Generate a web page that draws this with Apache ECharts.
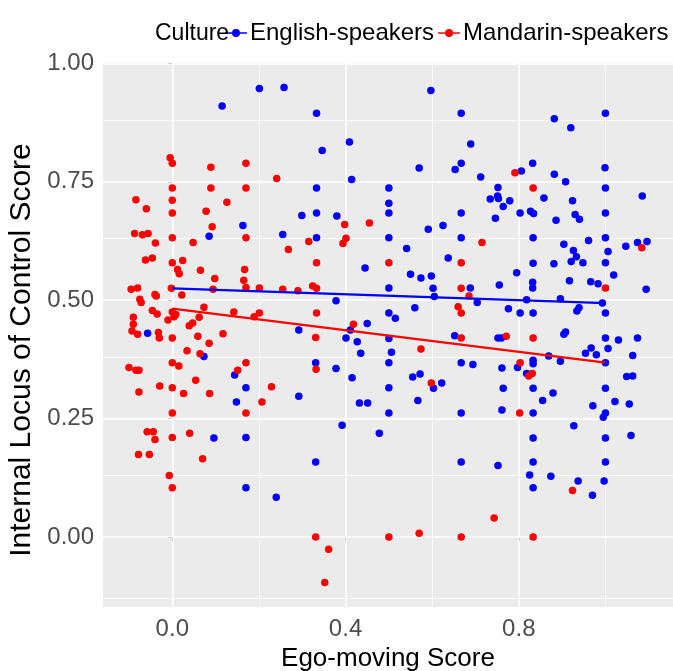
<!DOCTYPE html>
<html>
<head>
<meta charset="utf-8">
<script src="https://cdn.jsdelivr.net/npm/echarts@6/dist/echarts.min.js"></script>
<style>
  html, body { margin: 0; padding: 0; background: #fff; }
  #chart { width: 673px; height: 671px; }
</style>
</head>
<body>
<div id="chart"></div>
<script>
// 点的数据 [ego-moving score, internal locus of control score]
const englishPoints = [
  [0.201, 0.947], [0.258, 0.949], [0.115, 0.910], [0.333, 0.895], [0.597, 0.943], [0.667, 0.895],
  [0.409, 0.834], [0.346, 0.816], [0.689, 0.830], [0.570, 0.779], [0.653, 0.776], [0.667, 0.789],
  [0.414, 0.755], [0.882, 0.883], [0.920, 0.864], [1.000, 0.895], [0.832, 0.789], [0.806, 0.773],
  [0.712, 0.760], [0.882, 0.766], [0.908, 0.750], [0.999, 0.780], [0.163, 0.658], [0.085, 0.635],
  [0.255, 0.639], [0.333, 0.737], [0.500, 0.737], [0.500, 0.705], [0.299, 0.679], [0.333, 0.684],
  [0.380, 0.678], [0.500, 0.684], [0.667, 0.684], [0.591, 0.650], [0.625, 0.658], [0.333, 0.632],
  [0.500, 0.632], [0.667, 0.632], [0.541, 0.609], [0.637, 0.589], [0.445, 0.568], [0.550, 0.555],
  [0.574, 0.547], [0.598, 0.551], [0.500, 0.526], [0.602, 0.525], [0.688, 0.526], [0.605, 0.508],
  [0.378, 0.499], [0.560, 0.484], [0.500, 0.473], [0.515, 0.462], [0.752, 0.738], [1.000, 0.737],
  [0.751, 0.720], [0.734, 0.714], [0.753, 0.715], [0.779, 0.710], [0.764, 0.698], [0.858, 0.716],
  [0.924, 0.710], [1.085, 0.720], [0.803, 0.684], [0.827, 0.688], [0.834, 0.683], [0.746, 0.673],
  [0.886, 0.669], [0.930, 0.681], [0.940, 0.671], [1.000, 0.684], [0.833, 0.632], [0.904, 0.618],
  [0.961, 0.626], [1.000, 0.632], [1.047, 0.614], [1.074, 0.622], [1.096, 0.624], [0.926, 0.605],
  [1.006, 0.603], [0.933, 0.592], [0.921, 0.582], [0.948, 0.579], [0.833, 0.578], [0.881, 0.577],
  [1.000, 0.579], [0.795, 0.558], [1.019, 0.553], [0.917, 0.541], [0.966, 0.539], [0.983, 0.535],
  [0.832, 0.538], [0.832, 0.526], [0.755, 0.532], [1.094, 0.523], [0.704, 0.495], [0.818, 0.501],
  [0.896, 0.503], [0.993, 0.494], [0.776, 0.482], [0.803, 0.473], [0.833, 0.473], [0.934, 0.477],
  [0.939, 0.484], [1.000, 0.473], [-0.057, 0.430], [0.073, 0.381], [0.144, 0.342], [0.170, 0.315],
  [0.148, 0.285], [0.096, 0.209], [0.170, 0.210], [0.292, 0.437], [0.450, 0.451], [0.411, 0.437],
  [0.401, 0.420], [0.427, 0.412], [0.500, 0.419], [0.652, 0.425], [0.435, 0.388], [0.506, 0.390],
  [0.331, 0.368], [0.378, 0.356], [0.500, 0.368], [0.667, 0.368], [0.694, 0.364], [0.415, 0.336],
  [0.555, 0.338], [0.572, 0.344], [0.603, 0.314], [0.622, 0.325], [0.500, 0.315], [0.292, 0.297],
  [0.432, 0.283], [0.451, 0.283], [0.567, 0.288], [0.500, 0.262], [0.667, 0.262], [0.392, 0.236],
  [0.478, 0.219], [0.331, 0.158], [0.667, 0.158], [0.752, 0.420], [0.760, 0.420], [0.904, 0.428],
  [0.908, 0.433], [1.000, 0.420], [1.030, 0.416], [1.074, 0.420], [0.967, 0.399], [0.954, 0.388],
  [0.979, 0.385], [1.006, 0.398], [0.869, 0.382], [1.063, 0.383], [0.761, 0.357], [0.797, 0.358],
  [0.833, 0.373], [0.833, 0.366], [0.896, 0.371], [1.000, 0.368], [0.818, 0.345], [1.049, 0.339],
  [1.063, 0.340], [0.764, 0.314], [0.833, 0.314], [0.879, 0.304], [1.000, 0.314], [0.855, 0.288],
  [1.022, 0.286], [0.971, 0.277], [1.055, 0.281], [0.761, 0.268], [0.833, 0.262], [1.000, 0.262],
  [0.995, 0.253], [0.927, 0.235], [0.833, 0.209], [1.000, 0.209], [1.059, 0.214], [0.833, 0.158],
  [1.000, 0.158], [0.752, 0.151], [0.825, 0.131], [0.874, 0.128], [0.833, 0.104], [0.937, 0.118],
  [0.997, 0.118], [0.970, 0.088], [0.170, 0.104], [0.240, 0.084]
];
const mandarinPoints = [
  [-0.005, 0.801], [0.000, 0.789], [0.089, 0.781], [0.170, 0.789], [0.241, 0.757], [0.791, 0.769],
  [0.000, 0.737], [0.089, 0.737], [0.170, 0.737], [-0.084, 0.712], [0.000, 0.711], [-0.060, 0.693],
  [0.126, 0.707], [0.078, 0.688], [0.000, 0.684], [0.092, 0.655], [-0.087, 0.641], [-0.069, 0.638],
  [-0.056, 0.641], [0.170, 0.632], [0.000, 0.632], [-0.039, 0.621], [0.048, 0.622], [-0.062, 0.585],
  [-0.046, 0.589], [0.000, 0.579], [0.024, 0.584], [0.012, 0.565], [0.016, 0.556], [0.065, 0.563],
  [0.167, 0.565], [0.098, 0.546], [0.165, 0.542], [-0.095, 0.523], [-0.080, 0.526], [-0.002, 0.525],
  [0.094, 0.523], [0.170, 0.527], [0.201, 0.526], [0.255, 0.523], [-0.040, 0.512], [-0.037, 0.509],
  [0.022, 0.511], [-0.075, 0.502], [-0.072, 0.495], [0.073, 0.485], [-0.046, 0.478], [-0.035, 0.471],
  [0.000, 0.475], [0.008, 0.470], [0.004, 0.465], [0.142, 0.475], [0.201, 0.473], [0.189, 0.465],
  [0.062, 0.464], [-0.090, 0.464], [-0.010, 0.458], [0.398, 0.660], [0.455, 0.663], [0.315, 0.624],
  [0.401, 0.631], [0.394, 0.620], [0.268, 0.607], [0.333, 0.579], [0.500, 0.579], [0.667, 0.579],
  [0.290, 0.520], [0.324, 0.530], [0.333, 0.525], [0.667, 0.525], [0.685, 0.509], [0.660, 0.486],
  [0.333, 0.473], [0.667, 0.473], [0.833, 0.737], [0.715, 0.622], [1.084, 0.611], [1.000, 0.526],
  [-0.090, 0.449], [0.039, 0.446], [0.047, 0.452], [-0.093, 0.435], [-0.080, 0.428], [-0.032, 0.432],
  [-0.030, 0.420], [0.000, 0.420], [0.059, 0.424], [0.117, 0.429], [0.085, 0.409], [0.034, 0.393],
  [0.064, 0.387], [0.000, 0.368], [0.015, 0.361], [-0.100, 0.358], [-0.084, 0.352], [-0.077, 0.352],
  [0.170, 0.368], [0.151, 0.352], [0.054, 0.331], [-0.029, 0.319], [0.000, 0.315], [-0.077, 0.306],
  [0.026, 0.303], [0.086, 0.303], [0.229, 0.317], [0.207, 0.285], [0.000, 0.262], [0.170, 0.262],
  [-0.058, 0.222], [-0.044, 0.222], [-0.040, 0.206], [0.000, 0.210], [0.040, 0.219], [-0.078, 0.174],
  [-0.053, 0.174], [0.070, 0.165], [0.331, 0.421], [0.418, 0.449], [0.667, 0.420], [0.574, 0.397],
  [0.332, 0.354], [0.598, 0.325], [0.771, 0.424], [0.833, 0.420], [0.803, 0.368], [0.823, 0.340],
  [0.831, 0.345], [0.802, 0.262], [0.924, 0.098], [0.743, 0.040], [0.833, 0.000], [-0.007, 0.130],
  [0.000, 0.104], [0.331, 0.000], [0.361, -0.026], [0.352, -0.096], [0.500, 0.000], [0.570, 0.008],
  [0.667, 0.000]
];
// 回归线（两端）
const fitX = [0, 1];
const englishFit = [0.525, 0.494];
const mandarinFit = [0.482, 0.368];
// 刻度
const xTicks = [0, 0.4, 0.8];
const xMinor = [0.2, 0.6, 1.0];
const yTicks = [0, 0.25, 0.5, 0.75, 1];
const yMinor = [-0.125, 0.125, 0.375, 0.625, 0.875];

const keyIcon = "path://M0,3.2H7V4.8H0Z M15,3.2H22V4.8H15Z M7,4A4,4 0 1,1 15,4A4,4 0 1,1 7,4Z";
const font = "Liberation Sans";

const chart = echarts.init(document.getElementById("chart"));

// 网格线：主线粗，次线细
const gridLines = [];
xTicks.forEach((v) => gridLines.push({ xAxis: v, lineStyle: { color: "#fff", width: 1.5, type: "solid" } }));
xMinor.forEach((v) => gridLines.push({ xAxis: v, lineStyle: { color: "#fff", width: 0.7, type: "solid" } }));
yTicks.forEach((v) => gridLines.push({ yAxis: v, lineStyle: { color: "#fff", width: 1.5, type: "solid" } }));
yMinor.forEach((v) => gridLines.push({ yAxis: v, lineStyle: { color: "#fff", width: 0.7, type: "solid" } }));

const option = {
  animation: false,
  textStyle: { fontFamily: font },
  title: {
    text: "Culture",
    left: 150,
    top: 17,
    textStyle: { fontFamily: font, fontSize: 23, fontWeight: "normal", color: "#000" },
  },
  legend: {
    data: ["English-speakers", "Mandarin-speakers"],
    left: 225,
    top: 21,
    padding: 0,
    width: 448,
    icon: keyIcon,
    itemWidth: 22,
    itemHeight: 8,
    itemGap: 4,
    textStyle: { fontFamily: font, fontSize: 24, color: "#000", padding: [0, 0, 0, -2] },
  },
  grid: {
    left: 103,
    top: 63,
    right: 0,
    bottom: 64,
    containLabel: false,
    outerBoundsMode: "none",
    show: true,
    backgroundColor: "#EBEBEB",
    borderWidth: 0,
  },
  xAxis: {
    type: "value",
    min: -0.16,
    max: 1.156,
    name: "Ego-moving Score",
    nameLocation: "middle",
    nameGap: 31,
    nameTextStyle: { fontFamily: font, fontSize: 26, color: "#000" },
    axisLine: { show: false },
    splitLine: { show: false },
    axisTick: { show: true, customValues: xTicks, length: 4, lineStyle: { color: "#333" } },
    axisLabel: {
      customValues: xTicks,
      formatter: (v) => v.toFixed(1),
      fontFamily: font,
      fontSize: 24,
      color: "#4D4D4D",
      margin: 10,
    },
  },
  yAxis: {
    type: "value",
    min: -0.148,
    max: 1.001,
    name: "Internal Locus of Control Score",
    nameLocation: "middle",
    nameGap: 60,
    nameTextStyle: { fontFamily: font, fontSize: 30, color: "#000", padding: [0, 30, 0, 0] },
    axisLine: { show: false },
    splitLine: { show: false },
    axisTick: { show: true, customValues: yTicks, length: 4, lineStyle: { color: "#333" } },
    axisLabel: {
      customValues: yTicks,
      formatter: (v) => v.toFixed(2),
      fontFamily: font,
      fontSize: 24,
      color: "#4D4D4D",
      margin: 9,
    },
  },
  series: [
    {
      type: "line",
      data: [],
      silent: true,
      z: 1,
      markLine: { silent: true, z: 1, symbol: "none", label: { show: false }, data: gridLines },
    },
    {
      name: "English-speakers",
      type: "scatter",
      data: englishPoints,
      symbolSize: 7.5,
      itemStyle: { color: "#0000FF", opacity: 1 },
      z: 3,
    },
    {
      name: "Mandarin-speakers",
      type: "scatter",
      data: mandarinPoints,
      symbolSize: 7.5,
      itemStyle: { color: "#FF0000", opacity: 1 },
      z: 4,
    },
    {
      name: "English-speakers",
      type: "line",
      data: fitX.map((x, i) => [x, englishFit[i]]),
      symbol: "none",
      lineStyle: { color: "#0000FF", width: 2.3 },
      z: 5,
    },
    {
      name: "Mandarin-speakers",
      type: "line",
      data: fitX.map((x, i) => [x, mandarinFit[i]]),
      symbol: "none",
      lineStyle: { color: "#FF0000", width: 2.3 },
      z: 5,
    },
  ],
};

chart.setOption(option);
</script>
</body>
</html>
